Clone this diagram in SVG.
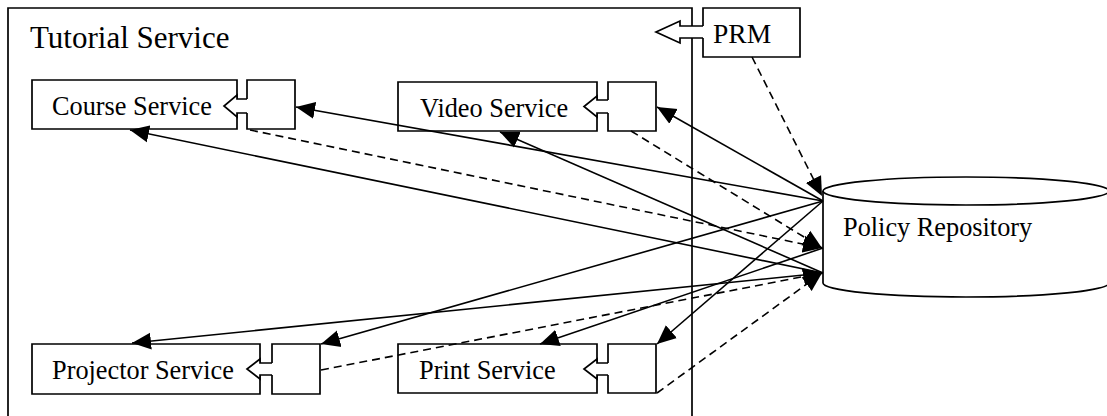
<svg xmlns="http://www.w3.org/2000/svg" width="1107" height="416" viewBox="0 0 1107 416">
  <style>
    .box { fill: #fff; stroke: #000; stroke-width: 1.7; }
    .edge { fill: none; stroke: #000; stroke-width: 1.7; }
    .label { font-family: "Liberation Serif", "Times New Roman", serif; font-size: 26.3px; fill: #000; }
    .title { font-size: 31px; }
    .big { font-size: 27.5px; }
    .link { fill: none; stroke: #000; stroke-width: 1.6; marker-end: url(#head); }
    .dash { stroke-dasharray: 8 5; }
  </style>
  <defs>
    <marker id="head" viewBox="0 0 19 18" refX="19" refY="9" markerWidth="19" markerHeight="18" markerUnits="userSpaceOnUse" orient="auto">
      <path d="M0,0.5 L19,9 L0,17.5 Z" fill="#000"/>
    </marker>
  </defs>

  <rect width="1107" height="416" fill="#fff"/>

  <!-- enclosing service boundary -->
  <g id="tutorial-service">
    <path class="edge" d="M8,424 V8 H692 V424"/>
    <text class="label title" x="30" y="47.5">Tutorial Service</text>
  </g>

  <!-- policy manager with its port on the boundary -->
  <g id="prm">
    <path class="box" d="M703,26 V8 H800 V57 H703 V38"/>
    <path class="box" d="M703,26 H680 V21 L656,32 L680,43 V38 H703"/>
    <text class="label big" x="713" y="42.5">PRM</text>
  </g>

  <g id="course-service">
    <path class="box" d="M237,99 V80 H32 V129 H237 V113"/>
    <path class="box" d="M247,99 V80 H295 V129 H247 V113"/>
    <path class="box" d="M247,99 H237 V95 L224,106 L237,117 V113 H247"/>
    <text class="label" x="52" y="114.5">Course Service</text>
  </g>

  <g id="video-service">
    <path class="box" d="M597,100 V82 H398 V131 H597 V113"/>
    <path class="box" d="M608,100 V82 H656 V131 H608 V113"/>
    <path class="box" d="M608,100 H597 V96 L584,106.5 L597,117 V113 H608"/>
    <text class="label" x="420" y="116.5">Video Service</text>
  </g>

  <g id="projector-service">
    <path class="box" d="M260,363 V344 H32 V394 H260 V375"/>
    <path class="box" d="M272,363 V344 H320 V394 H272 V375"/>
    <path class="box" d="M272,363 H260 V359 L247,369 L260,379 V375 H272"/>
    <text class="label" x="52" y="378.5">Projector Service</text>
  </g>

  <g id="print-service">
    <path class="box" d="M597,363 V344 H398 V393 H597 V375"/>
    <path class="box" d="M608,363 V344 H656 V393 H608 V375"/>
    <path class="box" d="M608,363 H597 V359 L584,369 L597,379 V375 H608"/>
    <text class="label" x="419" y="378.5">Print Service</text>
  </g>

  <g id="policy-repository">
    <path class="box" d="M823,191 V283 A143,14 0 0 0 1109,283 V191"/>
    <ellipse class="box" cx="966" cy="191" rx="143" ry="14"/>
    <text class="label" x="843" y="236">Policy Repository</text>
  </g>

  <g id="connectors">
    <!-- repository to service ports -->
    <line class="link" x1="823" y1="201" x2="296" y2="107"/>
    <line class="link" x1="823" y1="201" x2="657" y2="107"/>
    <line class="link" x1="823" y1="201" x2="321" y2="344"/>
    <line class="link" x1="823" y1="201" x2="657" y2="344"/>
    <!-- repository to service components -->
    <line class="link" x1="823" y1="273" x2="130" y2="130"/>
    <line class="link" x1="823" y1="273" x2="500" y2="132"/>
    <line class="link" x1="823" y1="273" x2="132" y2="343"/>
    <line class="link" x1="823" y1="248" x2="540" y2="344"/>
    <!-- ports back to repository -->
    <line class="link dash" x1="752" y1="57" x2="822" y2="196"/>
    <line class="link dash" x1="250" y1="130" x2="822" y2="248"/>
    <line class="link dash" x1="631" y1="131" x2="822" y2="248"/>
    <line class="link dash" x1="321" y1="370" x2="822" y2="273"/>
    <line class="link dash" x1="657" y1="393" x2="822" y2="273"/>
  </g>
</svg>
